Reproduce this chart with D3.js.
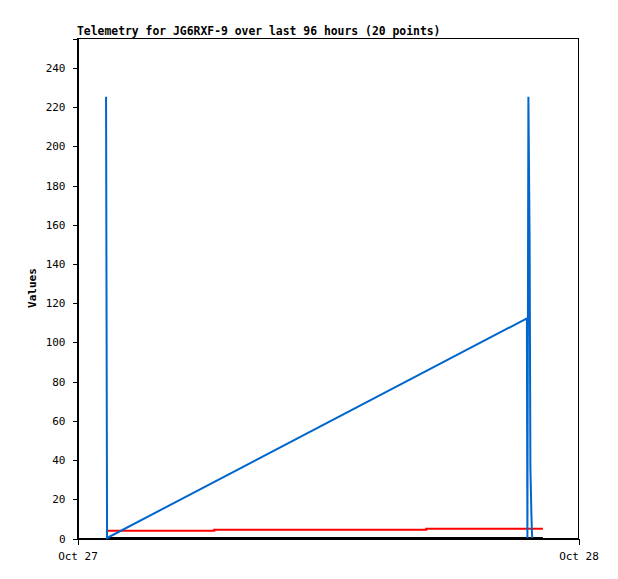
<!DOCTYPE html>
<html>
<head>
<meta charset="utf-8">
<script src="https://cdn.jsdelivr.net/npm/d3@7"></script>
<style>
    body { margin: 0; background: #fff; }
    text { font-family: "DejaVu Sans Mono", "Liberation Mono", monospace; }
</style>
</head>
<body>
<div id="chart"></div>
<script>

// data ----------------------------------------------------------------------
const day = "2023-10-27";
const xTickLabels = ["Oct 27", "Oct 28"];
const yTicks = [0, 20, 40, 60, 80, 100, 120, 140, 160, 180, 200, 220, 240];

const blueTimes  = ["01:23:31", "01:24:58", "01:26:24", "21:33:07", "21:33:43", "21:34:34", "21:37:26", "21:40:55", "21:43:12", "21:46:05", "21:48:07"];
const blueValues = [225, 112, 0, 112, 56, 0, 225, 152, 36, 12, 0];

const redTimes  = ["01:23:31", "06:34:34", "16:43:41", "22:19:12"];
const redValues = [3.7, 4.2, 4.7, 4.7];

const blackTimes  = ["01:23:31", "22:19:12"];
const blackValues = [0, 0];

(() => {

    let margin = {top: 38, right: 40, bottom: 41, left: 77},
        width = 618 - margin.left - margin.right,
        height = 579 - margin.top - margin.bottom;

    const parse = d3.timeParse("%Y-%m-%d %H:%M:%S");
    const toPoints = (times, values) => times.map((t, i) => ({date: parse(day + " " + t), value: values[i]}));

    const blueData = toPoints(blueTimes, blueValues);
    const redData = toPoints(redTimes, redValues);
    const blackData = toPoints(blackTimes, blackValues);

    const svg = d3.select("#chart")
                  .append("svg")
                  .attr("width", 618)
                  .attr("height", 579);

    const graph = svg.append("g")
                     .attr("transform", `translate(${margin.left},${margin.top})`);

    const start = parse(day + " 00:00:00");
    const end = d3.timeDay.offset(start, 1);

    const x = d3.scaleTime()
                .domain([start, end])
                .range([0, width]);

    const y = d3.scaleLinear()
                .domain([0, 255])
                .range([height, 0]);

    // frame
    graph.append("rect")
         .attr("x", 0.5)
         .attr("y", 0.5)
         .attr("width", width)
         .attr("height", height)
         .attr("fill", "none")
         .attr("stroke", "#000")
         .attr("stroke-width", 1)
         .attr("shape-rendering", "crispEdges");

    // axes
    const axeX = d3.axisBottom(x)
                   .tickValues([start, end])
                   .tickFormat((d, i) => xTickLabels[i])
                   .tickSize(6)
                   .tickPadding(8);

    const axeY = d3.axisLeft(y)
                   .tickValues(yTicks)
                   .tickSize(5)
                   .tickPadding(7);

    const groupeX = graph.append("g")
                         .attr("transform", `translate(0.5,${height + 0.5})`)
                         .call(axeX);

    const groupeY = graph.append("g")
                         .attr("transform", "translate(0.5,0.5)")
                         .call(axeY);

    [groupeX, groupeY].forEach(g => {
        g.select(".domain").attr("stroke", "#000").attr("shape-rendering", "crispEdges");
        g.selectAll(".tick line").attr("stroke", "#000").attr("shape-rendering", "crispEdges");
        g.selectAll("text")
         .attr("fill", "#000")
         .style("font-size", "11px");
    });

    // lines
    const line = d3.line()
                   .x(d => x(d.date))
                   .y(d => y(d.value));

    const stepLine = d3.line()
                       .curve(d3.curveStepAfter)
                       .x(d => x(d.date))
                       .y(d => y(d.value));

    graph.append("path")
         .datum(blackData)
         .attr("d", line)
         .attr("fill", "none")
         .attr("stroke", "#000")
         .attr("stroke-width", 2);

    graph.append("path")
         .datum(redData)
         .attr("d", stepLine)
         .attr("fill", "none")
         .attr("stroke", "#ff0000")
         .attr("stroke-width", 2);

    graph.append("path")
         .datum(blueData)
         .attr("d", line)
         .attr("fill", "none")
         .attr("stroke", "#0066cc")
         .attr("stroke-width", 2)
         .attr("stroke-linejoin", "miter");

    // title and label
    svg.append("text")
       .attr("x", margin.left)
       .attr("y", 35)
       .attr("font-weight", "bold")
       .style("font-size", "11.4px")
       .text("Telemetry for JG6RXF-9 over last 96 hours (20 points)");

    svg.append("text")
       .attr("transform", `translate(36,${margin.top + height / 2}) rotate(-90)`)
       .attr("text-anchor", "middle")
       .attr("font-weight", "bold")
       .style("font-size", "11px")
       .text("Values");

})();
</script>
</body>
</html>
